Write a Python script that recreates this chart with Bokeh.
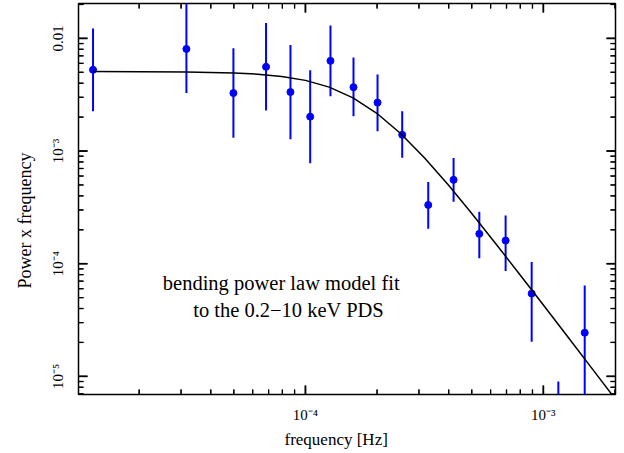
import math
from bokeh.plotting import figure
from bokeh.models import FixedTicker, CustomJSTickFormatter, Label, Title, Range1d
from bokeh.embed import file_html
from bokeh.resources import INLINE

# ---- data ----
freq = [1.28e-5, 3.16e-5, 4.98e-5, 6.83e-5, 8.65e-5, 1.047e-4, 1.274e-4, 1.592e-4,
        2.009e-4, 2.551e-4, 3.282e-4, 4.194e-4, 5.38e-4, 6.94e-4, 8.93e-4, 1.156e-3, 1.492e-3]
power = [5.26e-3, 8.06e-3, 3.27e-3, 5.59e-3, 3.34e-3, 2.02e-3, 6.32e-3, 3.69e-3,
         2.69e-3, 1.393e-3, 3.32e-4, 5.55e-4, 1.84e-4, 1.605e-4, 5.43e-5, 3.0e-6, 2.44e-5]
err_hi = [1.226e-2, 2.02e-2, 8.16e-3, 1.37e-2, 8.74e-3, 5.22e-3, 1.302e-2, 6.76e-3,
          4.78e-3, 2.25e-3, 5.32e-4, 8.68e-4, 2.89e-4, 2.68e-4, 1.033e-4, 9.0e-6, 6.39e-5]
err_lo = [2.25e-3, 3.27e-3, 1.31e-3, 2.29e-3, 1.27e-3, 7.8e-4, 3.06e-3, 2.04e-3,
          1.50e-3, 8.73e-4, 2.04e-4, 3.55e-4, 1.12e-4, 8.6e-5, 2.03e-5, 1.0e-7, 1.0e-6]

model_f = [1.279e-5, 3.162e-5, 5.012e-5, 6.310e-5, 7.943e-5, 1.0e-4, 1.259e-4, 1.585e-4,
           1.995e-4, 2.512e-4, 3.162e-4, 3.981e-4, 5.012e-4, 6.310e-4, 7.943e-4, 1.0e-3,
           1.259e-3, 1.585e-3, 1.995e-3, 2.239e-3]
model_p = [5.077e-3, 5.039e-3, 4.936e-3, 4.814e-3, 4.597e-3, 4.238e-3, 3.691e-3, 2.966e-3,
           2.163e-3, 1.430e-3, 8.71e-4, 5.01e-4, 2.774e-4, 1.505e-4, 8.07e-5, 4.30e-5,
           2.279e-5, 1.207e-5, 6.39e-6, 4.64e-6]

xtick_vals = [1e-4, 1e-3]
xtick_labels = ["10\u207b\u2074", "10\u207b\u00b3"]
ytick_vals = [1e-5, 1e-4, 1e-3, 1e-2]
ytick_labels = ["10\u207b\u2075", "10\u207b\u2074", "10\u207b\u00b3", "0.01"]

annot_lines = ["bending power law model fit", "to the 0.2\u221210 keV PDS"]
x_title = "frequency [Hz]"
y_title = "Power x frequency"

FONT = "Liberation Serif"
X0, X1 = 1.112e-5, 2.01e-3
Y0, Y1 = 6.9e-6, 2.04e-2
FW, FH = 537, 391

p = figure(frame_width=FW, frame_height=FH, x_axis_type="log", y_axis_type="log",
           x_range=Range1d(X0, X1), y_range=Range1d(Y0, Y1),
           output_backend="svg", toolbar_location=None,
           min_border_left=78, min_border_right=9, min_border_top=3, min_border_bottom=59)
p.xgrid.visible = False
p.ygrid.visible = False
p.outline_line_color = "black"
p.outline_line_width = 1.5
p.background_fill_color = None
p.border_fill_color = None

minor = [m * 10.0 ** e for e in range(-7, 0) for m in range(2, 10)]

fmt_code = """
for (let i = 0; i < vals.length; i++) {
  if (Math.abs(Math.log10(tick) - Math.log10(vals[i])) < 1e-6) return labels[i];
}
return "";
"""
xfmt = CustomJSTickFormatter(args=dict(vals=xtick_vals, labels=xtick_labels), code=fmt_code)
yfmt = CustomJSTickFormatter(args=dict(vals=ytick_vals, labels=ytick_labels), code=fmt_code)

for ax in (p.xaxis[0], p.yaxis[0]):
    ax.axis_line_color = None
    ax.major_tick_in = 0
    ax.major_tick_out = 0
    ax.minor_tick_in = 0
    ax.minor_tick_out = 0
    ax.major_tick_line_color = None
    ax.minor_tick_line_color = None
    ax.major_label_text_font = FONT
    ax.major_label_text_color = "black"
    ax.major_label_text_font_size = "15px"

xa = p.xaxis[0]
xa.ticker = FixedTicker(ticks=xtick_vals, minor_ticks=minor)
xa.formatter = xfmt
xa.major_label_standoff = 12

ya = p.yaxis[0]
ya.ticker = FixedTicker(ticks=ytick_vals, minor_ticks=minor)
ya.formatter = yfmt
ya.major_label_orientation = "vertical"
ya.major_label_standoff = 12

p.add_layout(Title(text=x_title, align="left", offset=206, text_font=FONT, text_color="black",
                   text_font_size="17px", text_font_style="normal", standoff=4), "below")
p.add_layout(Title(text=y_title, align="left", offset=106, text_font=FONT, text_color="black",
                   text_font_size="18px", text_font_style="normal", standoff=22,
                   vertical_align="top"), "left")

# inward tick marks on the four frame edges
px_per_dex_x = FW / math.log10(X1 / X0)
px_per_dex_y = FH / math.log10(Y1 / Y0)
xmaj = [t for t in xtick_vals if X0 <= t <= X1]
xmin_ = [t for t in minor if X0 <= t <= X1 and t not in xtick_vals]
ymaj = [t for t in ytick_vals if Y0 <= t <= Y1]
ymin_ = [t for t in minor if Y0 <= t <= Y1 and t not in ytick_vals]
for xs, ln, lw in ((xmaj, 9, 1.5), (xmin_, 5, 1.2)):
    fy = 10 ** (ln / px_per_dex_y)
    hy = 10 ** (ln / 2 / px_per_dex_y)
    p.segment(x0=xs, y0=[Y0 * 1.0001] * len(xs), x1=xs, y1=[Y0 * fy] * len(xs),
              line_color="black", line_width=lw, level="overlay")
    p.segment(x0=xs, y0=[Y1 / 1.0001] * len(xs), x1=xs, y1=[Y1 / fy] * len(xs),
              line_color="black", line_width=lw, level="overlay")
    p.scatter(x=xs, y=[Y0 * hy] * len(xs), marker="dash", angle=math.pi / 2, size=ln,
              line_color="black", line_width=lw, level="overlay")
    p.scatter(x=xs, y=[Y1 / hy] * len(xs), marker="dash", angle=math.pi / 2, size=ln,
              line_color="black", line_width=lw, level="overlay")
for ys, ln, lw in ((ymaj, 9, 1.5), (ymin_, 5, 1.2)):
    fx = 10 ** (ln / px_per_dex_x)
    hx = 10 ** (ln / 2 / px_per_dex_x)
    p.segment(x0=[X0 * 1.0001] * len(ys), y0=ys, x1=[X0 * fx] * len(ys), y1=ys,
              line_color="black", line_width=lw, level="overlay")
    p.segment(x0=[X1 / 1.0001] * len(ys), y0=ys, x1=[X1 / fx] * len(ys), y1=ys,
              line_color="black", line_width=lw, level="overlay")
    p.scatter(x=[X0 * hx] * len(ys), y=ys, marker="dash", size=ln,
              line_color="black", line_width=lw, level="overlay")
    p.scatter(x=[X1 / hx] * len(ys), y=ys, marker="dash", size=ln,
              line_color="black", line_width=lw, level="overlay")

# error bars and points
p.segment(x0=freq, y0=err_lo, x1=freq, y1=err_hi, line_color="#0000ff", line_width=2)
p.scatter(x=freq, y=power, size=7, fill_color="#0000ff", line_color="#0000ff")

# model curve
p.line(x=model_f, y=model_p, line_color="black", line_width=1.5)

p.add_layout(Label(x=7.91e-5, y=6.70e-5, text=annot_lines[0], text_align="center",
                   text_baseline="middle", text_font=FONT, text_font_size="20.5px",
                   text_color="black"))
p.add_layout(Label(x=8.50e-5, y=3.87e-5, text=annot_lines[1], text_align="center",
                   text_baseline="middle", text_font=FONT, text_font_size="20.5px",
                   text_color="black"))

open("out.html", "w").write(file_html(p, INLINE))
